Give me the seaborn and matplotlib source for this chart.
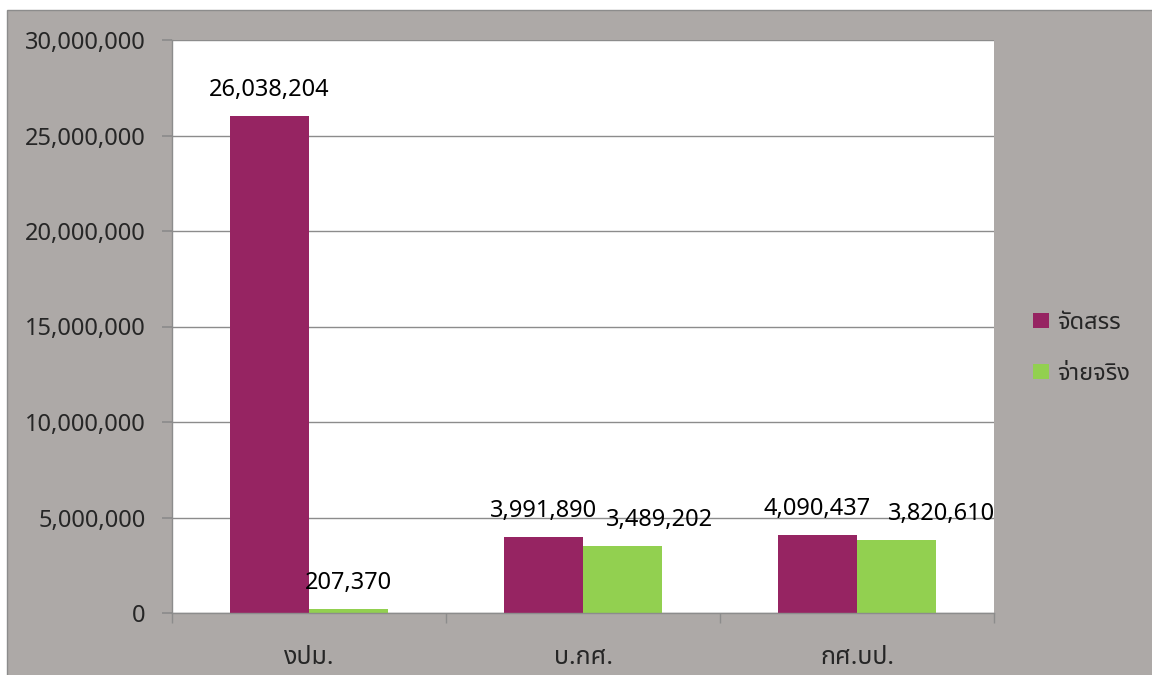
import matplotlib
matplotlib.use("Agg")
import matplotlib.pyplot as plt
from matplotlib import font_manager
from matplotlib.ticker import FuncFormatter, FixedLocator
from fontTools.ttLib import TTFont
import seaborn as sns
import pandas as pd

categories = ["งปม.", "บ.กศ.", "กศ.บป."]
series_names = ["จัดสรร", "จ่ายจริง"]
allocated = [26038204, 3991890, 4090437]
spent = [207370, 3489202, 3820610]
y_ticks = [0, 5000000, 10000000, 15000000, 20000000, 25000000, 30000000]

colors = ["#962462", "#92D050"]
bg = "#ADA9A7"
grid_col = "#8C8C8C"

# find an installed family that has Thai glyphs
found = []
for f in font_manager.fontManager.ttflist:
    try:
        cmap = TTFont(f.fname, fontNumber=0, lazy=True).getBestCmap()
        if cmap and 0x0E08 in cmap and 0x0E31 in cmap:
            found.append(f.name)
    except Exception:
        pass
thai_family = None
for pref in ["Noto Sans Thai", "Noto Sans Thai UI", "Noto Sans", "DejaVu Sans"]:
    if pref in found:
        thai_family = pref
        break
if thai_family is None and found:
    thai_family = found[0]

sns.set_theme(style="white")
plt.rcParams["font.family"] = ([thai_family] if thai_family else []) + ["DejaVu Sans"]

df = pd.DataFrame({
    "cat": categories * 2,
    "series": [series_names[0]] * 3 + [series_names[1]] * 3,
    "value": allocated + spent,
})

fig = plt.figure(figsize=(11.52, 6.75), dpi=100, facecolor="white")
# grey chart area, cut off at the right and bottom edges of the image
chart_bg = plt.Rectangle((7 / 1152, -0.05), 1.1, 1 - 10 / 675 + 0.05, transform=fig.transFigure,
                         facecolor=bg, edgecolor=grid_col, linewidth=1, zorder=-10)
fig.patches.append(chart_bg)

ax = fig.add_axes([172 / 1152, 1 - 613 / 675, (994 - 172) / 1152, (613 - 40) / 675])
ax.set_facecolor("white")

sns.barplot(data=df, x="cat", y="value", hue="series", palette=colors,
            width=0.577, ax=ax, errorbar=None, saturation=1, linewidth=0)

# value labels; the green ones in the last two groups sit a bit to the right
label_shift = [[0, 0, 0], [0, 37, 45]]
for cont, shifts in zip(ax.containers, label_shift):
    for bar, dx in zip(cont, shifts):
        h = bar.get_height()
        ax.annotate(f"{h:,.0f}", xy=(bar.get_x() + bar.get_width() / 2, h),
                    xytext=(dx, 14), textcoords="offset pixels",
                    ha="center", va="bottom", fontsize=17, color="black")

ax.set_ylim(0, 30000000)
ax.set_xlim(-0.5, 2.5)
ax.yaxis.set_major_locator(FixedLocator(y_ticks))
ax.yaxis.set_major_formatter(FuncFormatter(lambda v, p: f"{v:,.0f}"))
ax.yaxis.grid(True, color=grid_col, linewidth=1)
ax.set_axisbelow(True)
ax.set_xlabel("")
ax.set_ylabel("")

for s in ["top", "right"]:
    ax.spines[s].set_visible(False)
for s in ["left", "bottom"]:
    ax.spines[s].set_color(grid_col)
    ax.spines[s].set_linewidth(1)

ax.tick_params(axis="y", length=7, color=grid_col, labelsize=17, pad=12, direction="out", left=True)
ax.tick_params(axis="x", length=0, labelsize=18, pad=23)
ax.set_xticks([0, 1, 2])
ax.set_xticklabels(categories)
ax.set_xticks([-0.5, 0.5, 1.5, 2.5], minor=True)
ax.tick_params(axis="x", which="minor", length=7, color=grid_col, bottom=True)

leg = ax.legend(loc="center left", bbox_to_anchor=(1.022, 0.462), frameon=False,
                fontsize=17, handlelength=0.65, handleheight=0.65, handletextpad=0.35,
                labelspacing=1.15)

fig.savefig("out.png", dpi=100, facecolor="white")
